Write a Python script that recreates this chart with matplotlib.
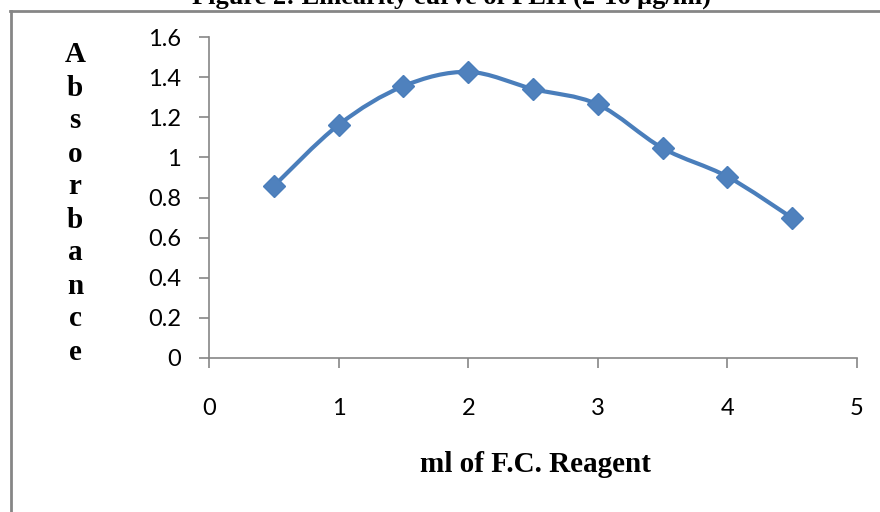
import matplotlib.pyplot as plt
from matplotlib.path import Path
from matplotlib.patches import PathPatch
from matplotlib.lines import Line2D

# data
ml_reagent = [0.5, 1.0, 1.5, 2.0, 2.5, 3.0, 3.5, 4.0, 4.5]
absorbance = [0.857, 1.162, 1.355, 1.426, 1.341, 1.264, 1.046, 0.904, 0.698]

x_ticks = [0, 1, 2, 3, 4, 5]
y_ticks = [0, 0.2, 0.4, 0.6, 0.8, 1.0, 1.2, 1.4, 1.6]
y_tick_labels = ["0", "0.2", "0.4", "0.6", "0.8", "1", "1.2", "1.4", "1.6"]

title = "Figure 2: Linearity curve of PLH (2-16 \u00b5g/ml)"
x_label = "ml of F.C. Reagent"
y_label = "Absorbance"

line_color = "#4A7EBB"
marker_color = "#4F81BD"
axis_color = "#868686"

fig = plt.figure(figsize=(8.8, 5.12), dpi=100)
W, H = 880, 512
ax = fig.add_axes([209 / W, 1 - 358 / H, (857 - 209) / W, (358 - 37) / H])

# smoothed line like Excel (Catmull-Rom bezier)
verts = [(ml_reagent[0], absorbance[0])]
codes = [Path.MOVETO]
n = len(ml_reagent)
for i in range(n - 1):
    x0, y0 = ml_reagent[max(i - 1, 0)], absorbance[max(i - 1, 0)]
    x1, y1 = ml_reagent[i], absorbance[i]
    x2, y2 = ml_reagent[i + 1], absorbance[i + 1]
    x3, y3 = ml_reagent[min(i + 2, n - 1)], absorbance[min(i + 2, n - 1)]
    c1 = (x1 + (x2 - x0) / 6, y1 + (y2 - y0) / 6)
    c2 = (x2 - (x3 - x1) / 6, y2 - (y3 - y1) / 6)
    verts += [c1, c2, (x2, y2)]
    codes += [Path.CURVE4] * 3
ax.add_patch(PathPatch(Path(verts, codes), facecolor="none",
                       edgecolor=line_color, lw=3, capstyle="round",
                       joinstyle="round", zorder=2))
ax.plot(ml_reagent, absorbance, linestyle="none", marker="D", ms=11,
        mfc=marker_color, mec=line_color, zorder=3, clip_on=False)

ax.set_xlim(0, 5)
ax.set_ylim(0, 1.6)
ax.set_xticks(x_ticks)
ax.set_yticks(y_ticks)
ax.set_yticklabels(y_tick_labels)
for s in ["top", "right"]:
    ax.spines[s].set_visible(False)
for s in ["left", "bottom"]:
    ax.spines[s].set_color(axis_color)
    ax.spines[s].set_linewidth(1.2)
ax.tick_params(axis="both", colors=axis_color, length=7, width=1.2,
               labelcolor="black", labelsize=17)
ax.tick_params(axis="x", pad=22)
ax.tick_params(axis="y", pad=13)
for lab in ax.get_xticklabels() + ax.get_yticklabels():
    lab.set_family("Lato")

# vertical stacked y label
for k, ch in enumerate(y_label):
    fig.text(75 / W, 1 - (55 + 33 * k) / H, ch, ha="center", va="center",
             family="Liberation Serif", fontweight="bold", fontsize=21)

fig.text(535 / W, 1 - 464 / H, x_label, ha="center", va="center",
         family="Liberation Serif", fontweight="bold", fontsize=21)
fig.text(451 / W, 1 - 4 / H, title, ha="center", va="baseline",
         family="Liberation Serif", fontweight="bold", fontsize=19)

# outer frame lines
fig.add_artist(Line2D([11 / W, 11 / W], [0, 1 - 11 / H], color=axis_color,
                      lw=2, transform=fig.transFigure))
fig.add_artist(Line2D([10 / W, 1], [1 - 11 / H, 1 - 11 / H], color=axis_color,
                      lw=2, transform=fig.transFigure))

fig.savefig("out.png", dpi=100)
